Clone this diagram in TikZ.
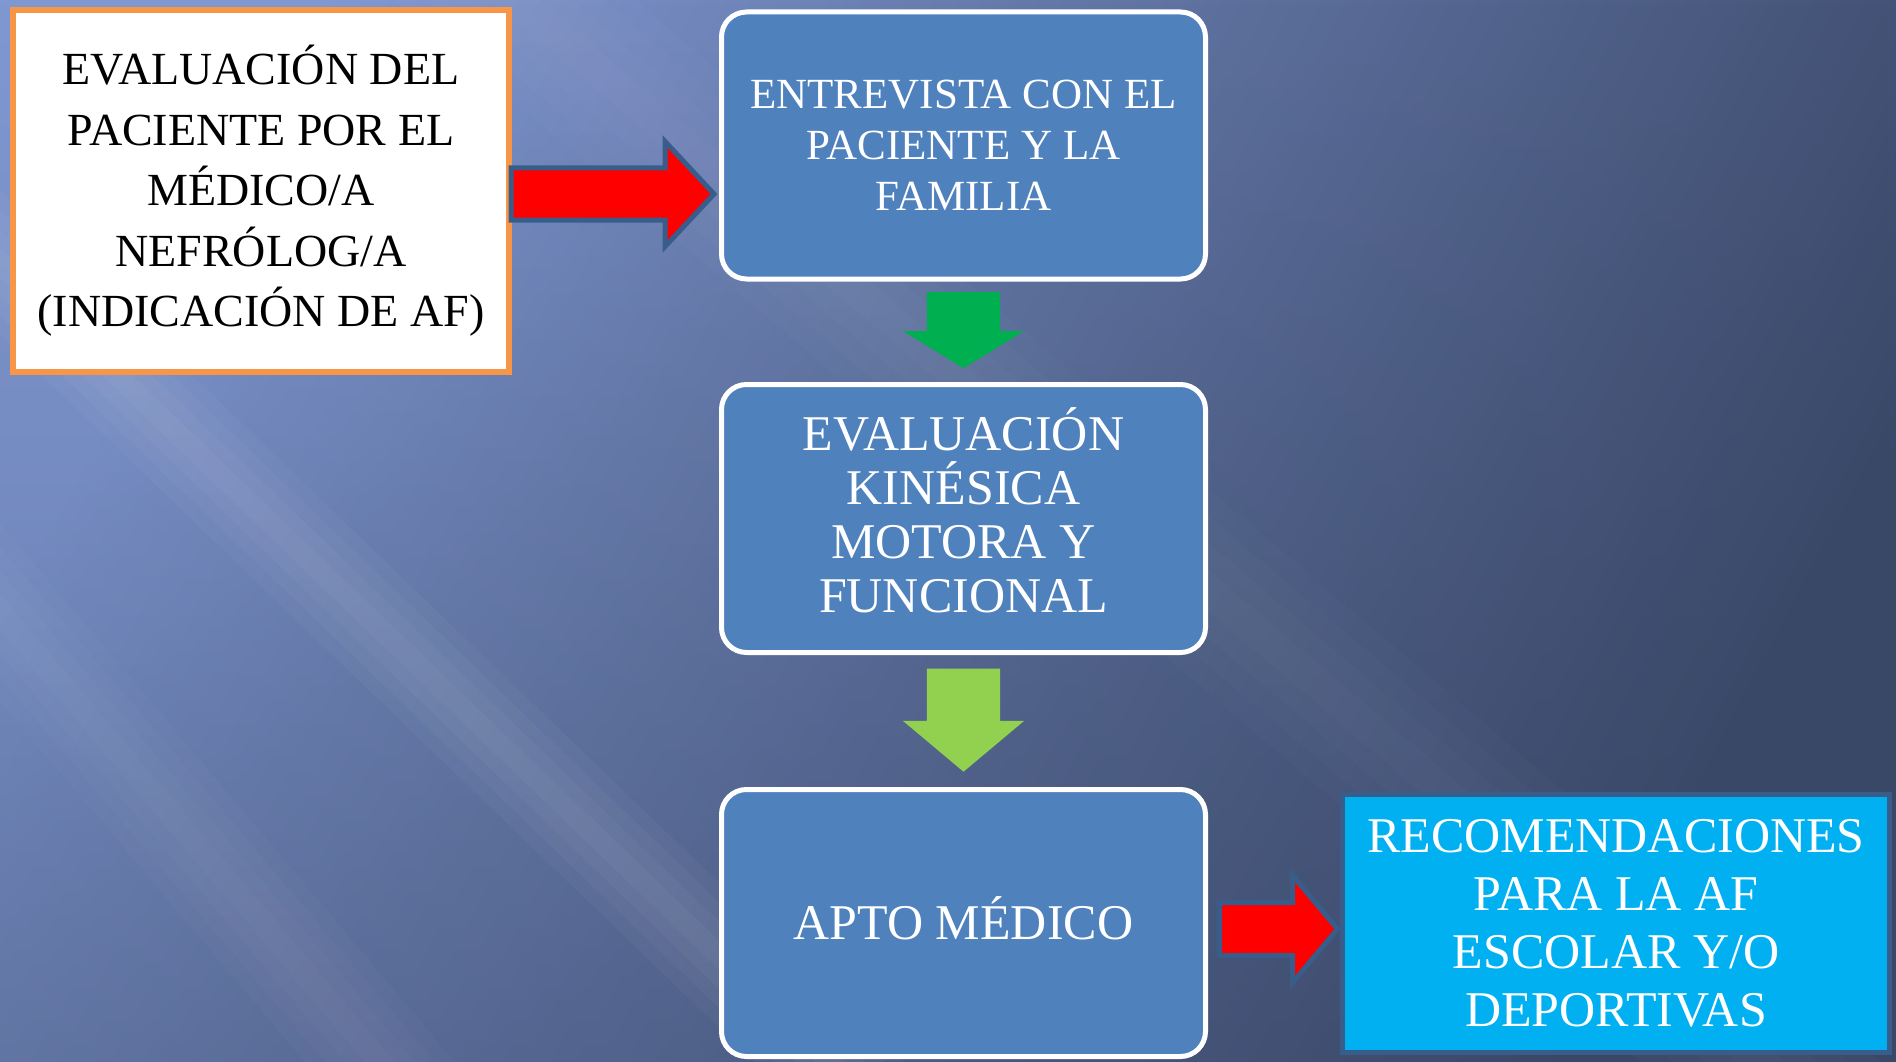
\documentclass[tikz,border=0pt]{standalone}
\usepackage{fontspec}
\setmainfont{Liberation Serif}
\usetikzlibrary{shapes.arrows, calc, fadings}

\definecolor{fondoclaro}{HTML}{8098D2}
\definecolor{fondooscuro}{HTML}{3A4868}
\definecolor{cajaazul}{HTML}{4F81BD}
\definecolor{bordeazul}{HTML}{385D8A}
\definecolor{naranja}{HTML}{F79646}
\definecolor{celeste}{HTML}{00B0F0}
\definecolor{verde}{HTML}{00B050}
\definecolor{verdeclaro}{HTML}{92D050}

\begin{document}
\begin{tikzpicture}[x=1pt, y=-1pt,
    caja/.style={draw=white, line width=5pt, fill=cajaazul, rounded corners=25pt,
      minimum width=484pt, minimum height=267pt, text=white, align=center, inner sep=0pt},
    flecha/.style={single arrow, single arrow head indent=0pt, inner xsep=0pt, anchor=tail},
    roja/.style={flecha, fill=red, draw=bordeazul, line width=5pt}]

    \useasboundingbox (0,0) rectangle (1896,1062);

    % fondo
    \begin{scope}
    \clip (0,0) rectangle (1896,1062);
    \shade[top color=fondoclaro, bottom color=fondooscuro, shading angle=62] (0,0) rectangle (1896,1062);
    \fill[fondooscuro, path fading=north, opacity=0.35] (0,0) rectangle (1896,1062);
    \foreach \w in {15,35,55,75} {
      \fill[white, opacity=0.03] ({-200-\w},70) -- ({-200+\w},70) -- ({830+\w},1062) -- ({830-\w},1062) -- cycle;
      \fill[white, opacity=0.015] ({480-1.6*\w},-30) -- ({480+1.6*\w},-30) -- ({1900+1.6*\w},1180) -- ({1900-1.6*\w},1180) -- cycle;
      \fill[white, opacity=0.02] ({-120-\w},470) -- ({-120+\w},470) -- ({380+\w},1062) -- ({380-\w},1062) -- cycle;
    }
    \end{scope}

    \node[draw=naranja, line width=6pt, fill=white, minimum width=496pt, minimum height=362pt,
      align=center, inner sep=0pt, font=\fontsize{46}{60.5}\selectfont] (medico) at (261,191)
    {EVALUACIÓN DEL\\PACIENTE POR EL\\MÉDICO/A\\NEFRÓLOG/A\\(INDICACIÓN DE AF)};

    \node[caja, font=\fontsize{43}{51}\selectfont] (entrevista) at (963.5,145.5)
    {ENTREVISTA CON EL\\PACIENTE Y LA\\FAMILIA};
    \node[caja, minimum height=268pt, text depth=17pt, font=\fontsize{50}{54}\selectfont] (kinesica) at (963.5,518.5)
    {EVALUACIÓN\\KINÉSICA\\MOTORA Y\\FUNCIONAL};
    \node[caja, text depth=10pt, font=\fontsize{50}{60}\selectfont] (apto) at (963.5,923) {APTO MÉDICO};
    \node[draw=bordeazul, line width=5pt, fill=celeste, minimum width=547pt, minimum height=258pt,
      text=white, align=center, inner sep=0pt, font=\fontsize{50}{58}\selectfont] (recomendaciones) at (1616,923.5)
    {RECOMENDACIONES\\PARA LA AF\\ESCOLAR Y/O\\DEPORTIVAS};

    % flechas
    \node[roja, minimum height=203pt, inner ysep=23.5pt, single arrow head extend=26.5pt,
      single arrow tip angle=94] (rojauno) at ($(medico.east |- 0,194)+(-3.5,0)$) {};
    \node[flecha, fill=verde, rotate=-90, minimum height=76pt, inner ysep=36.5pt,
      single arrow head extend=24pt, single arrow tip angle=117] (verdeuno) at ($(entrevista.south)+(0,10.5)$) {};
    \node[flecha, fill=verdeclaro, rotate=-90, minimum height=103pt, inner ysep=36.5pt,
      single arrow head extend=24pt, single arrow tip angle=100] (verdedos) at ($(kinesica.south)+(0,13.5)$) {};
    \node[roja, minimum height=118pt, inner ysep=24pt, single arrow head extend=27pt,
      single arrow tip angle=100] (rojados) at ($(apto.east |- 0,929)+(9,0)$) {};

\end{tikzpicture}
\end{document}
